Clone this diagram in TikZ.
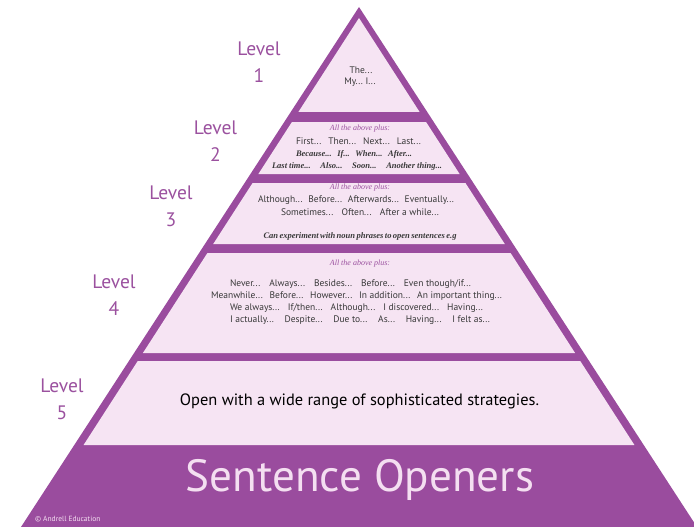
\documentclass[tikz,border=0pt]{standalone}
\usepackage{fontspec}
\setmainfont{PT Sans}
\newfontfamily\serifit{Liberation Serif}
\definecolor{pyrpurple}{HTML}{9A4C9E}
\definecolor{bandpink}{HTML}{F6E4F3}
\definecolor{lvlpurple}{HTML}{9B519F}
\definecolor{bodygray}{HTML}{383838}
\definecolor{titlepink}{HTML}{F4DFF1}
\newcommand\pyrband[2]{\fill[bandpink] ({359-0.645*(#1-18)},#1) -- ({359+0.645*(#1-18)},#1) -- ({359+0.645*(#2-18)},#2) -- ({359-0.645*(#2-18)},#2) -- cycle;}
\begin{document}
\begin{tikzpicture}[x=1pt,y=-1pt,
  body/.style={text=bodygray, font=\fontsize{9.5}{11}\selectfont, inner sep=0pt},
  plus/.style={text=lvlpurple, font=\serifit\itshape\fontsize{8}{9}\selectfont, inner sep=0pt},
  bi/.style={text=bodygray, font=\serifit\bfseries\itshape\fontsize{8.5}{10}\selectfont, inner sep=0pt},
  lvl/.style={text=lvlpurple, font=\fontsize{19.5}{27}\selectfont, align=center, inner sep=0pt}]
\useasboundingbox (0,0) rectangle (694,527);
\fill[white] (0,0) rectangle (694,527);
% outer triangle
\fill[pyrpurple] (359,7) -- (697,527) -- (21,527) -- cycle;
% level 1 inner triangle
\fill[bandpink] (359,18) -- ({359+0.645*94},112) -- ({359-0.645*94},112) -- cycle;
\pyrband{122}{174}
\pyrband{183}{244}
\pyrband{253}{353}
\pyrband{361}{445}
% level labels
\node[lvl] (lv1) at (259,62.5) {Level\\1};
\node[lvl] (lv2) at (215.5,141.5) {Level\\2};
\node[lvl] (lv3) at (171,206.5) {Level\\3};
\node[lvl] (lv4) at (114,295.5) {Level\\4};
\node[lvl] (lv5) at (62,399) {Level\\5};
% level 1
\node[body] (l1a) at (361,70) {The...};
\node[body] (l1b) at (360,82) {My...\ I...};
% level 2
\node[plus] (p2) at (360,129) {All the above plus:};
\node[body] (l2a) at (358.5,141) {\makebox[125pt][s]{First...\ Then...\ Next...\ Last...}};
\node[bi] (l2b) at (354,154) {\makebox[116pt][s]{Because...\ If...\ When...\ After...}};
\node[bi] (l2c) at (357,166) {\makebox[170pt][s]{\mbox{Last time...}\ Also...\ Soon...\ \mbox{Another thing...}}};
% level 3
\node[plus] (p3) at (360,188) {All the above plus:};
\node[body] (l3a) at (356,200) {\makebox[196pt][s]{Although...\ Before...\ Afterwards...\ Eventually...}};
\node[body] (l3b) at (360,212) {\makebox[158pt][s]{Sometimes...\ Often...\ \mbox{After a while...}}};
\node[bi] (l3c) at (360,236) {\makebox[193pt][s]{Can experiment with noun phrases to open sentences e.g}};
% level 4
\node[plus] (p4) at (360,264) {All the above plus:};
\node[body] (l4a) at (350.5,284) {\makebox[241pt][s]{Never...\ Always...\ Besides...\ Before...\ \mbox{Even though/if...}}};
\node[body] (l4b) at (356.5,296) {\makebox[291pt][s]{Meanwhile...\ Before...\ However...\ \mbox{In addition...}\ \mbox{An important thing...}}};
\node[body] (l4c) at (356.5,308) {\makebox[253pt][s]{\mbox{We always...}\ If/then...\ Although...\ \mbox{I discovered...}\ Having...}};
\node[body] (l4d) at (360,320) {\makebox[260pt][s]{\mbox{I actually...}\ Despite...\ \mbox{Due to...}\ As...\ Having...\ \mbox{I felt as...}}};
% level 5
\node[text=black, inner sep=0pt] (l5) at (359.5,401) {\resizebox{359pt}{!}{\fontsize{16}{19}\selectfont Open with a wide range of sophisticated strategies.}};
% title
\node[text=titlepink, inner sep=0pt] (title) at (360,480) {\resizebox{348pt}{!}{\fontsize{50}{60}\selectfont Sentence Openers}};
% copyright
\node[text=titlepink, font=\fontsize{7.5}{9}\selectfont, inner sep=0pt, anchor=west] (copy) at (35,519) {© Andrell Education};
\end{tikzpicture}
\end{document}
